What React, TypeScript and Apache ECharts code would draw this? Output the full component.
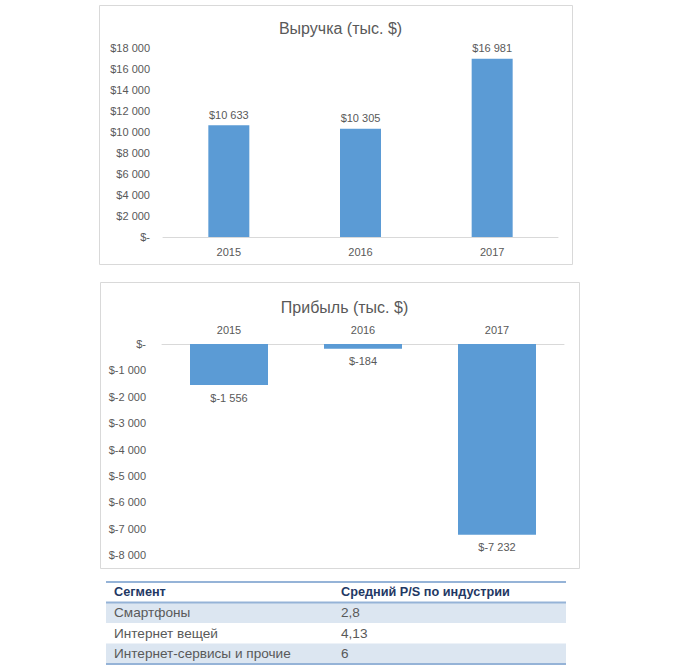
import React, { useEffect, useRef } from "react";
import * as echarts from "echarts";

const years = ["2015", "2016", "2017"];
const revenue = [10633, 10305, 16981];
const profit = [-1556, -184, -7232];
const tableHeader = ["Сегмент", "Средний P/S по индустрии"];
const segments = ["Смартфоны", "Интернет вещей", "Интернет-сервисы и прочие"];
const psValues = ["2,8", "4,13", "6"];

const FONT = "Liberation Sans";
const BAR = "#5b9bd5";
const TXT = "#595959";

function fmt(v: number): string {
  if (v === 0) return "$-";
  const s = Math.abs(v).toString().replace(/\B(?=(\d{3})+(?!\d))/g, " ");
  return v < 0 ? "$-" + s : "$" + s;
}

export default function App() {
  const ref = useRef<HTMLDivElement>(null);
  useEffect(() => {
    if (!ref.current) return;
    const chart = echarts.init(ref.current, null, { renderer: "svg" });

    const tableGraphics: any[] = [];
    const tx = 106, tw = 460, col2 = 341, rowH = 20.5, top = 582;
    segments.forEach((s, i) => {
      const y = top + rowH * (i + 1);
      if (i % 2 === 0) {
        tableGraphics.push({ type: "rect", shape: { x: tx, y, width: tw, height: rowH }, style: { fill: "#dce6f1" }, silent: true });
      }
      tableGraphics.push({ type: "text", x: 114, y: y + rowH / 2, style: { text: s, fill: TXT, font: `13.6px ${FONT}`, verticalAlign: "middle" } });
      tableGraphics.push({ type: "text", x: col2, y: y + rowH / 2, style: { text: psValues[i], fill: TXT, font: `13.6px ${FONT}`, verticalAlign: "middle" } });
    });
    tableGraphics.push({ type: "text", x: 114, y: top + rowH / 2, style: { text: tableHeader[0], fill: "#1f3864", font: `bold 12.7px ${FONT}`, verticalAlign: "middle" } });
    tableGraphics.push({ type: "text", x: col2, y: top + rowH / 2, style: { text: tableHeader[1], fill: "#1f3864", font: `bold 12.7px ${FONT}`, verticalAlign: "middle" } });
    [top, top + rowH, top + rowH * 4].forEach((y) => {
      tableGraphics.push({ type: "line", shape: { x1: tx, y1: y, x2: tx + tw, y2: y }, style: { stroke: "#95b3d7", lineWidth: 2 }, silent: true });
    });

    chart.setOption({
      animation: false,
      textStyle: { fontFamily: FONT },
      title: [
        { text: "Выручка (тыс. $)", left: 335.5, top: 15, textAlign: "center", textStyle: { fontSize: 16, fontWeight: "normal", color: TXT, fontFamily: FONT } },
        { text: "Прибыль (тыс. $)", left: 339.5, top: 294, textAlign: "center", textStyle: { fontSize: 16, fontWeight: "normal", color: TXT, fontFamily: FONT } },
      ],
      graphic: [
        { type: "rect", shape: { x: 99.5, y: 5.5, width: 473, height: 259 }, style: { fill: "none", stroke: "#d9d9d9", lineWidth: 1 }, silent: true, z: -1 },
        { type: "rect", shape: { x: 100.5, y: 282.5, width: 479, height: 286 }, style: { fill: "none", stroke: "#d9d9d9", lineWidth: 1 }, silent: true, z: -1 },
        ...tableGraphics,
      ],
      grid: [
        { left: 163, width: 395, top: 48, height: 189 },
        { left: 162, width: 402, top: 344, height: 211 },
      ],
      xAxis: [
        {
          gridIndex: 0, type: "category", data: years,
          axisLine: { lineStyle: { color: "#d9d9d9" } }, axisTick: { show: false },
          axisLabel: { color: TXT, fontSize: 11, margin: 9, fontFamily: FONT },
        },
        {
          gridIndex: 1, type: "category", data: years, position: "top",
          axisLine: { onZero: false, lineStyle: { color: "#d9d9d9" } }, axisTick: { show: false },
          axisLabel: { color: TXT, fontSize: 11, margin: 9, fontFamily: FONT },
        },
      ],
      yAxis: [
        {
          gridIndex: 0, type: "value", min: 0, max: 18000, interval: 2000,
          splitLine: { show: false }, axisLine: { show: false }, axisTick: { show: false },
          axisLabel: { color: TXT, fontSize: 11, margin: 13, formatter: (v: number) => fmt(v), fontFamily: FONT },
        },
        {
          gridIndex: 1, type: "value", min: -8000, max: 0, interval: 1000,
          splitLine: { show: false }, axisLine: { show: false }, axisTick: { show: false },
          axisLabel: { color: TXT, fontSize: 11, margin: 16, formatter: (v: number) => fmt(v), fontFamily: FONT },
        },
      ],
      series: [
        {
          type: "bar", xAxisIndex: 0, yAxisIndex: 0, data: revenue, barWidth: 41,
          itemStyle: { color: BAR },
          label: { show: true, position: "top", distance: 5, color: TXT, fontSize: 11, fontFamily: FONT, formatter: (p: any) => fmt(p.value) },
        },
        {
          type: "bar", xAxisIndex: 1, yAxisIndex: 1, data: profit, barWidth: 78,
          itemStyle: { color: BAR },
          label: { show: true, position: "bottom", distance: 7, color: TXT, fontSize: 11, fontFamily: FONT, formatter: (p: any) => fmt(p.value) },
        },
      ],
    });
    return () => chart.dispose();
  }, []);
  return <div ref={ref} style={{ position: "fixed", left: 0, top: 0, width: 695, height: 672, background: "#fff" }} />;
}
